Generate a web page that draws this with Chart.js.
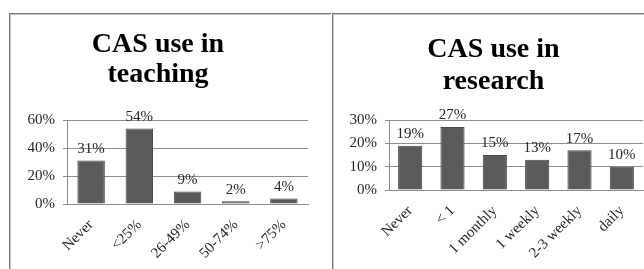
<!DOCTYPE html>
<html>
<head>
<meta charset="utf-8">
<script src="https://cdn.jsdelivr.net/npm/chart.js@4"></script>
<style>
  body { margin: 0; background: #fff; width: 644px; height: 269px; overflow: hidden; position: relative; }
  .panel { position: absolute; top: 13px; height: 270px; border-left: 1px solid #7a7a7a; border-top: 1px solid #7a7a7a; box-shadow: inset 1px 1px 0 #c4c4c4; }
  #panelTeaching { left: 9px; width: 321px; }
  #panelResearch { left: 332px; width: 320px; }
  .wrap { position: absolute; top: 0; height: 269px; }
  #wrapTeaching { left: 0; width: 318px; }
  #wrapResearch { left: 334px; width: 310px; }
</style>
</head>
<body>
<div class="panel" id="panelTeaching"></div>
<div class="panel" id="panelResearch"></div>
<div class="wrap" id="wrapTeaching"><canvas id="chartTeaching"></canvas></div>
<div class="wrap" id="wrapResearch"><canvas id="chartResearch"></canvas></div>
<script>
// Datos
const teachingTitle = ['CAS use in', 'teaching'];
const teachingLabels = ['Never', '<25%', '26-49%', '50-74%', '>75%'];
const teachingValues = [31, 54, 9, 2, 4];

const researchTitle = ['CAS use in', 'research'];
const researchLabels = ['Never', '< 1', '1 monthly', '1 weekly', '2-3 weekly', 'daily'];
const researchValues = [19, 27, 15, 13, 17, 10];

const serif = "'Liberation Serif', serif";

// Etiquetas de porcentaje encima de cada barra
const barLabels = {
    id: 'barLabels',
    afterDatasetsDraw(chart) {
        const ctx = chart.ctx;
        const meta = chart.getDatasetMeta(0);
        const values = chart.data.datasets[0].data;
        ctx.save();
        ctx.font = '15px ' + serif;
        ctx.fillStyle = '#262626';
        ctx.textAlign = 'center';
        ctx.textBaseline = 'bottom';
        meta.data.forEach(function (bar, i) {
            ctx.fillText(values[i] + '%', bar.x, bar.y - 4);
        });
        ctx.restore();
    }
};

function crearGrafico(id, title, labels, values, cfg) {
    const ctx = document.getElementById(id).getContext('2d');
    return new Chart(ctx, {
        type: 'bar',
        data: {
            labels: labels,
            datasets: [{
                data: values,
                backgroundColor: '#5b5b5b',
                borderColor: '#474747',
                borderWidth: 1,
                barPercentage: 0.57,
                categoryPercentage: 1
            }]
        },
        options: {
            responsive: true,
            maintainAspectRatio: false,
            animation: false,
            layout: { padding: cfg.padding },
            plugins: {
                legend: { display: false },
                tooltip: { enabled: false },
                title: {
                    display: true,
                    text: title,
                    color: '#000',
                    font: { family: serif, size: 28, weight: 'bold', lineHeight: cfg.titleLine },
                    padding: cfg.titlePadding
                }
            },
            scales: {
                x: {
                    grid: { display: false },
                    border: { display: true, color: '#8c8c8c', width: 1 },
                    ticks: {
                        minRotation: 45,
                        maxRotation: 45,
                        color: '#262626',
                        padding: 4,
                        font: { family: serif, size: 15 }
                    },
                    afterFit: function (scale) { scale.height = cfg.xHeight; }
                },
                y: {
                    min: 0,
                    max: cfg.max,
                    grid: { color: '#8c8c8c', tickLength: 4 },
                    border: { display: true, color: '#8c8c8c', width: 1 },
                    ticks: {
                        stepSize: cfg.step,
                        color: '#262626',
                        padding: 8,
                        font: { family: serif, size: 15 },
                        callback: function (v) { return v + '%'; }
                    },
                    afterFit: function (scale) { scale.width = cfg.yWidth; }
                }
            }
        },
        plugins: [barLabels]
    });
}

crearGrafico('chartTeaching', teachingTitle, teachingLabels, teachingValues, {
    padding: { left: 8, right: 10, top: 0, bottom: 0 },
    titleLine: 30 / 28,
    titlePadding: { top: 30, bottom: 30 },
    xHeight: 65,
    yWidth: 59,
    max: 60,
    step: 20
});

crearGrafico('chartResearch', researchTitle, researchLabels, researchValues, {
    padding: { left: 10, right: 1, top: 0, bottom: 0 },
    titleLine: 32 / 28,
    titlePadding: { top: 34, bottom: 22 },
    xHeight: 79,
    yWidth: 45,
    max: 30,
    step: 10
});
</script>
</body>
</html>
